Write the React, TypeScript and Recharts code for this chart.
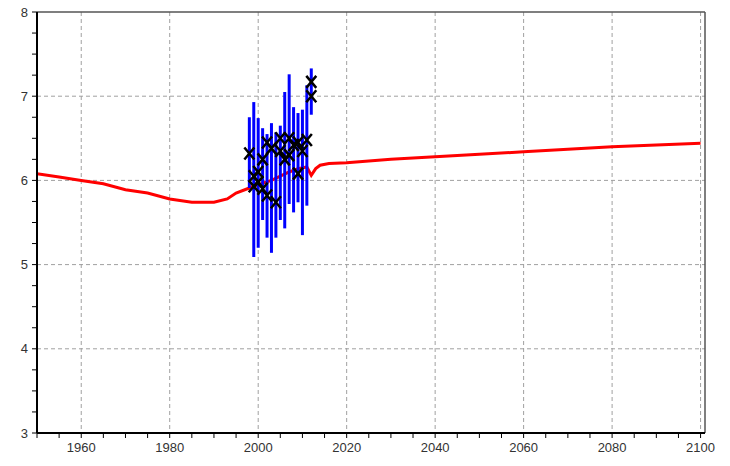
import {
  ComposedChart,
  Line,
  Scatter,
  ErrorBar,
  XAxis,
  YAxis,
  CartesianGrid,
  ReferenceLine,
} from 'recharts'

// red curve
const curveYears = [
  1950, 1955, 1960, 1965, 1970, 1975, 1980, 1985, 1990, 1993, 1995, 1998, 2000,
  2003, 2005, 2007, 2009, 2011, 2012, 2013, 2014, 2016, 2020, 2030, 2040, 2050,
  2060, 2070, 2080, 2090, 2100,
]
const curveValues = [
  6.08, 6.04, 6.0, 5.96, 5.89, 5.85, 5.78, 5.74, 5.74, 5.78, 5.85, 5.91, 5.95,
  6.0, 6.05, 6.1, 6.14, 6.16, 6.06, 6.14, 6.18, 6.2, 6.21, 6.25, 6.28, 6.31,
  6.34, 6.37, 6.4, 6.42, 6.44,
]

// blue ranges
const rangeYears = [
  1998, 1999, 2000, 2001, 2002, 2003, 2004, 2005, 2006, 2007, 2008, 2009, 2010,
  2011, 2012,
]
const rangeLow = [
  5.91, 5.09, 5.2, 5.53, 5.32, 5.14, 5.32, 5.53, 5.43, 5.72, 5.62, 5.74, 5.35,
  5.7, 6.78,
]
const rangeHigh = [
  6.75, 6.93, 6.74, 6.62, 6.55, 6.68, 6.57, 6.65, 7.05, 7.26, 6.87, 6.8, 6.84,
  7.13, 7.33,
]

// black crosses
const markYears = [
  1998, 1999, 1999, 2000, 2000, 2001, 2001, 2002, 2002, 2003, 2004, 2005, 2005,
  2006, 2007, 2007, 2008, 2009, 2009, 2010, 2011, 2012, 2012,
]
const markValues = [
  6.32, 6.05, 5.93, 5.98, 6.1, 6.25, 5.9, 6.45, 5.82, 6.38, 5.74, 6.35, 6.5,
  6.25, 6.5, 6.3, 6.42, 6.08, 6.45, 6.35, 6.48, 7.17, 7.0,
]

const xTicks = Array.from({ length: 31 }, (_, i) => 1950 + i * 5)
const yTicks = Array.from({ length: 21 }, (_, i) => 3 + i * 0.25)

const curve = curveYears.map((year, i) => ({ year, val: curveValues[i] }))
const ranges = rangeYears.map((year, i) => {
  const mid = (rangeLow[i] + rangeHigh[i]) / 2
  return { year, val: mid, err: [mid - rangeLow[i], rangeHigh[i] - mid] }
})
const marks = markYears.map((year, i) => ({ year, val: markValues[i] }))

const font = { fontSize: 13, fill: '#333', fontFamily: 'Liberation Sans, Arial, sans-serif' }

const Cross = (props: any) => {
  const { cx, cy } = props
  if (cx == null || cy == null) return <g />
  return (
    <path
      d={`M${cx - 5},${cy - 6}L${cx + 5},${cy + 6}M${cx + 5},${cy - 6}L${cx - 5},${cy + 6}`}
      stroke="#000"
      strokeWidth={2.5}
      fill="none"
    />
  )
}

export default function App() {
  return (
    <div style={{ position: 'absolute', left: 0, top: 0, background: '#fff' }}>
      <ComposedChart
        width={730}
        height={466}
        margin={{ top: 12, right: 25, bottom: 0, left: 0 }}
      >
        <CartesianGrid
          stroke="#a0a0a0"
          strokeDasharray="4 3"
          verticalValues={[1960, 1980, 2000, 2020, 2040, 2060, 2080, 2100]}
          horizontalValues={[4, 5, 6, 7]}
        />
        <XAxis
          type="number"
          dataKey="year"
          domain={[1950, 2101]}
          allowDataOverflow
          ticks={xTicks}
          interval={0}
          height={33}
          tickSize={5}
          tickMargin={5}
          tick={font}
          tickFormatter={(v: number) => (v % 20 === 0 && v > 1950 ? String(v) : '')}
          tickLine={{ stroke: '#000' }}
          axisLine={{ stroke: '#000', strokeWidth: 2 }}
        />
        <YAxis
          type="number"
          dataKey="val"
          domain={[3, 8]}
          allowDataOverflow
          ticks={yTicks}
          interval={0}
          width={37}
          tickSize={5}
          tickMargin={4}
          tick={font}
          tickFormatter={(v: number) => (Number.isInteger(v) ? String(v) : '')}
          tickLine={{ stroke: '#000' }}
          axisLine={{ stroke: '#000', strokeWidth: 2 }}
        />
        <ReferenceLine y={8} stroke="#555" strokeWidth={1.5} />
        <ReferenceLine x={2101} stroke="#555" strokeWidth={1.5} />
        <Line
          data={curve}
          dataKey="val"
          type="linear"
          stroke="#ff0000"
          strokeWidth={3}
          dot={false}
          isAnimationActive={false}
        />
        <Scatter
          data={ranges}
          dataKey="val"
          shape={() => <g />}
          isAnimationActive={false}
        >
          <ErrorBar
            dataKey="err"
            direction="y"
            width={0}
            stroke="#0000ff"
            strokeWidth={3}
            isAnimationActive={false}
          />
        </Scatter>
        <Scatter
          data={marks}
          dataKey="val"
          shape={Cross}
          isAnimationActive={false}
        />
      </ComposedChart>
    </div>
  )
}
